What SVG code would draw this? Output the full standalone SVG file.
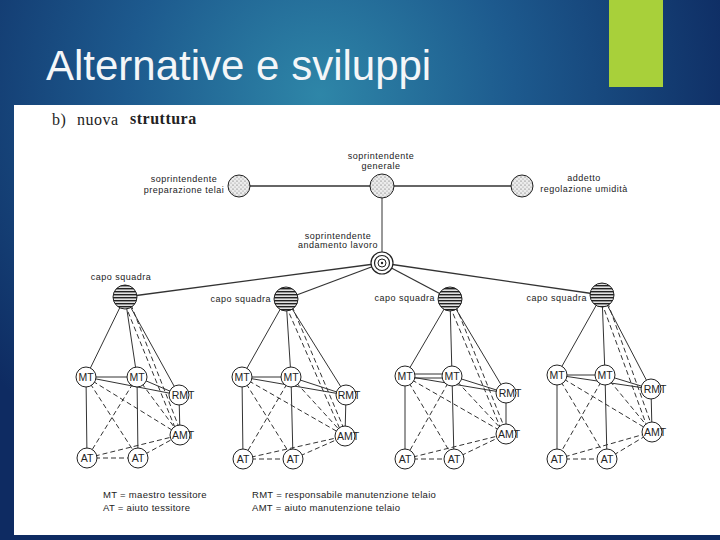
<svg xmlns="http://www.w3.org/2000/svg" width="720" height="540" viewBox="0 0 720 540">
<defs>
<radialGradient id="bg" gradientUnits="userSpaceOnUse" cx="320" cy="95" r="430">
<stop offset="0" stop-color="#2e86a8"/>
<stop offset="0.45" stop-color="#1d5a8e"/>
<stop offset="1" stop-color="#0e2b62"/>
</radialGradient>
<pattern id="stip" width="4" height="4" patternUnits="userSpaceOnUse">
<rect width="4" height="4" fill="#ececec"/>
<circle cx="1" cy="1" r="0.6" fill="#555"/>
<circle cx="3" cy="3" r="0.5" fill="#777"/>
</pattern>
<pattern id="stripe" width="4" height="3" patternUnits="userSpaceOnUse">
<rect width="4" height="3" fill="#e2e2e2"/>
<rect width="4" height="1.4" fill="#222"/>
</pattern>
<style>
.t{font-family:"Liberation Sans",Arial,sans-serif;fill:#222}
.s{font-size:9px;letter-spacing:0.5px}
.n{font-size:10.5px;text-anchor:middle}
.lg{font-size:9.5px;letter-spacing:0.3px}
.c{fill:#fff;stroke:#222;stroke-width:1}
.sol{stroke:#333;stroke-width:1;fill:none}
.das{stroke:#333;stroke-width:1;stroke-dasharray:5 3;fill:none}
.top{stroke:#333;stroke-width:1.3;fill:none}
.cs{fill:url(#stripe);stroke:#222;stroke-width:1}
.sp{fill:url(#stip);stroke:#222;stroke-width:1}
.b{font-family:"Liberation Serif","Times New Roman",serif;font-size:16px;fill:#222;letter-spacing:0.5px}
</style>
</defs>
<rect width="720" height="540" fill="url(#bg)"/>
<rect x="609" y="0" width="54" height="87" fill="#a8d03a"/>
<text x="46" y="80" font-family="Liberation Sans, Arial, sans-serif" font-size="42" fill="#f4f6f8">Alternative e sviluppi</text>
<rect x="14" y="105" width="706" height="430" fill="#fff"/>
<text class="b" x="52" y="125">b)</text>
<text class="b" x="77" y="125">nuova</text>
<text class="b" x="130" y="124" font-weight="bold">struttura</text>

<g id="connectors">
<line class="top" x1="239" y1="186" x2="382" y2="186" stroke-width="2"/>
<line class="top" x1="382" y1="186" x2="522" y2="186" stroke-width="2"/>
<line class="sol" x1="382" y1="186" x2="382" y2="263"/>
<line class="top" x1="382" y1="263" x2="125" y2="297"/>
<line class="top" x1="382" y1="263" x2="286" y2="299"/>
<line class="top" x1="382" y1="263" x2="450" y2="299"/>
<line class="top" x1="382" y1="263" x2="602" y2="295"/>
<!-- team 1 -->
<g>
<line class="sol" x1="125" y1="297" x2="86" y2="377"/>
<line class="sol" x1="125" y1="297" x2="137" y2="377"/>
<line class="sol" x1="125" y1="297" x2="179" y2="395"/>
<line class="das" x1="122" y1="297" x2="178" y2="435"/>
<line class="das" x1="128" y1="297" x2="182" y2="435"/>
<line class="sol" x1="86" y1="377" x2="137" y2="377"/>
<line class="sol" x1="86" y1="377" x2="179" y2="395"/>
<line class="sol" x1="137" y1="377" x2="179" y2="395"/>
<line class="sol" x1="86" y1="377" x2="87" y2="458"/>
<line class="sol" x1="137" y1="377" x2="138" y2="458"/>
<line class="sol" x1="179" y1="395" x2="180" y2="435"/>
<line class="das" x1="86" y1="377" x2="180" y2="435"/>
<line class="das" x1="137" y1="377" x2="180" y2="435"/>
<line class="das" x1="86" y1="377" x2="138" y2="458"/>
<line class="das" x1="137" y1="377" x2="87" y2="458"/>
<line class="das" x1="87" y1="458" x2="180" y2="435"/>
<line class="das" x1="138" y1="458" x2="180" y2="435"/>
<line class="das" x1="87" y1="458" x2="138" y2="458" stroke-width="1.6"/>
</g>
<!-- team 2 -->
<g>
<line class="sol" x1="286" y1="299" x2="242" y2="377"/>
<line class="sol" x1="286" y1="299" x2="291" y2="377"/>
<line class="sol" x1="286" y1="299" x2="346" y2="395"/>
<line class="das" x1="283" y1="299" x2="343" y2="436"/>
<line class="das" x1="289" y1="299" x2="347" y2="436"/>
<line class="sol" x1="242" y1="377" x2="291" y2="377" stroke-width="1.5"/>
<line class="sol" x1="242" y1="377" x2="346" y2="395"/>
<line class="sol" x1="291" y1="377" x2="346" y2="395"/>
<line class="sol" x1="242" y1="377" x2="243" y2="459"/>
<line class="sol" x1="291" y1="377" x2="293" y2="459"/>
<line class="sol" x1="346" y1="395" x2="345" y2="436" stroke-width="1.5"/>
<line class="das" x1="242" y1="377" x2="345" y2="436"/>
<line class="das" x1="291" y1="377" x2="345" y2="436"/>
<line class="das" x1="242" y1="377" x2="293" y2="459"/>
<line class="das" x1="291" y1="377" x2="243" y2="459"/>
<line class="das" x1="243" y1="459" x2="345" y2="436"/>
<line class="das" x1="293" y1="459" x2="345" y2="436"/>
<line class="das" x1="243" y1="459" x2="293" y2="459" stroke-width="1.6"/>
</g>
<!-- team 3 -->
<g>
<line class="sol" x1="450" y1="299" x2="405" y2="376"/>
<line class="sol" x1="450" y1="299" x2="452" y2="376"/>
<line class="sol" x1="450" y1="299" x2="506" y2="393"/>
<line class="das" x1="447" y1="299" x2="503" y2="434"/>
<line class="das" x1="453" y1="299" x2="507" y2="434"/>
<line class="sol" x1="405" y1="374" x2="452" y2="374"/>
<line class="sol" x1="405" y1="378" x2="452" y2="378"/>
<line class="sol" x1="405" y1="376" x2="506" y2="393"/>
<line class="sol" x1="452" y1="376" x2="506" y2="393"/>
<line class="sol" x1="405" y1="376" x2="405" y2="459"/>
<line class="sol" x1="452" y1="376" x2="454" y2="459" stroke-width="1.5"/>
<line class="sol" x1="506" y1="393" x2="506" y2="434" stroke-width="1.5"/>
<line class="das" x1="405" y1="376" x2="506" y2="434"/>
<line class="das" x1="452" y1="376" x2="506" y2="434"/>
<line class="das" x1="405" y1="376" x2="454" y2="459"/>
<line class="das" x1="452" y1="376" x2="405" y2="459"/>
<line class="das" x1="405" y1="459" x2="506" y2="434"/>
<line class="das" x1="454" y1="459" x2="506" y2="434"/>
<line class="das" x1="405" y1="459" x2="454" y2="459" stroke-width="2.2"/>
</g>
<!-- team 4 -->
<g>
<line class="sol" x1="602" y1="295" x2="557" y2="375"/>
<line class="sol" x1="602" y1="295" x2="605" y2="375"/>
<line class="sol" x1="602" y1="295" x2="651" y2="389"/>
<line class="das" x1="599" y1="295" x2="649" y2="432"/>
<line class="das" x1="605" y1="295" x2="654" y2="432"/>
<line class="sol" x1="557" y1="375" x2="605" y2="375" stroke-width="1.5"/>
<line class="sol" x1="557" y1="375" x2="651" y2="389"/>
<line class="sol" x1="605" y1="375" x2="651" y2="389"/>
<line class="sol" x1="557" y1="375" x2="557" y2="459" stroke-width="2"/>
<line class="sol" x1="605" y1="375" x2="607" y2="459" stroke-width="1.5"/>
<line class="sol" x1="651" y1="389" x2="652" y2="432"/>
<line class="das" x1="557" y1="375" x2="652" y2="432"/>
<line class="das" x1="605" y1="375" x2="652" y2="432"/>
<line class="das" x1="557" y1="375" x2="607" y2="459"/>
<line class="das" x1="605" y1="375" x2="557" y2="459"/>
<line class="das" x1="557" y1="459" x2="652" y2="432"/>
<line class="das" x1="607" y1="459" x2="652" y2="432"/>
<line class="das" x1="557" y1="459" x2="607" y2="459" stroke-width="2"/>
</g>
</g>

<g id="sopr-prep">
<circle class="sp" cx="239" cy="186" r="11"/>
<text class="t s" x="184" y="182" text-anchor="middle">soprintendente</text>
<text class="t s" x="184" y="193" text-anchor="middle">preparazione telai</text>
</g>
<g id="sopr-generale">
<circle class="sp" cx="382" cy="186" r="12"/>
<text class="t s" x="381" y="159" text-anchor="middle">soprintendente</text>
<text class="t s" x="381" y="169" text-anchor="middle">generale</text>
</g>
<g id="addetto-umidita">
<circle class="sp" cx="522" cy="186" r="11"/>
<text class="t s" x="584" y="181" text-anchor="middle">addetto</text>
<text class="t s" x="584" y="192" text-anchor="middle">regolazione umidità</text>
</g>
<g id="sopr-andamento">
<circle cx="382" cy="263" r="11" fill="#fff" stroke="#222" stroke-width="1.2"/>
<circle cx="382" cy="263" r="7.5" fill="none" stroke="#222" stroke-width="1.2"/>
<circle cx="382" cy="263" r="4" fill="none" stroke="#222" stroke-width="1"/>
<circle cx="382" cy="263" r="1.2" fill="#222"/>
<text class="t s" x="338" y="239" text-anchor="middle">soprintendente</text>
<text class="t s" x="338" y="248" text-anchor="middle">andamento lavoro</text>
</g>

<g id="capo1"><circle class="cs" cx="125" cy="297" r="12"/><text class="t s" x="121" y="280" text-anchor="middle">capo squadra</text></g>
<g id="capo2"><circle class="cs" cx="286" cy="299" r="12"/><text class="t s" x="271" y="302" text-anchor="end">capo squadra</text></g>
<g id="capo3"><circle class="cs" cx="450" cy="299" r="12"/><text class="t s" x="435" y="301" text-anchor="end">capo squadra</text></g>
<g id="capo4"><circle class="cs" cx="602" cy="295" r="12"/><text class="t s" x="587" y="301" text-anchor="end">capo squadra</text></g>

<!-- team 1 nodes -->
<g id="t1-mt1"><circle class="c" cx="86" cy="377" r="10"/><text class="t n" x="86" y="381">MT</text></g>
<g id="t1-mt2"><circle class="c" cx="137" cy="377" r="10"/><text class="t n" x="137" y="381">MT</text></g>
<g id="t1-rmt"><circle class="c" cx="179" cy="395" r="10"/><text class="t n" x="183" y="399">RMT</text></g>
<g id="t1-amt"><circle class="c" cx="180" cy="435" r="10"/><text class="t n" x="183" y="439">AMT</text></g>
<g id="t1-at1"><circle class="c" cx="87" cy="458" r="10"/><text class="t n" x="87" y="462">AT</text></g>
<g id="t1-at2"><circle class="c" cx="138" cy="458" r="10"/><text class="t n" x="138" y="462">AT</text></g>
<!-- team 2 nodes -->
<g id="t2-mt1"><circle class="c" cx="242" cy="377" r="10"/><text class="t n" x="242" y="381">MT</text></g>
<g id="t2-mt2"><circle class="c" cx="291" cy="377" r="10"/><text class="t n" x="291" y="381">MT</text></g>
<g id="t2-rmt"><circle class="c" cx="346" cy="395" r="10"/><text class="t n" x="349" y="399">RMT</text></g>
<g id="t2-amt"><circle class="c" cx="345" cy="436" r="10"/><text class="t n" x="348" y="440">AMT</text></g>
<g id="t2-at1"><circle class="c" cx="243" cy="459" r="10"/><text class="t n" x="243" y="463">AT</text></g>
<g id="t2-at2"><circle class="c" cx="293" cy="459" r="10"/><text class="t n" x="293" y="463">AT</text></g>
<!-- team 3 nodes -->
<g id="t3-mt1"><circle class="c" cx="405" cy="376" r="10"/><text class="t n" x="405" y="380">MT</text></g>
<g id="t3-mt2"><circle class="c" cx="452" cy="376" r="10"/><text class="t n" x="452" y="380">MT</text></g>
<g id="t3-rmt"><circle class="c" cx="506" cy="393" r="10"/><text class="t n" x="510" y="397">RMT</text></g>
<g id="t3-amt"><circle class="c" cx="506" cy="434" r="10"/><text class="t n" x="509" y="438">AMT</text></g>
<g id="t3-at1"><circle class="c" cx="405" cy="459" r="10"/><text class="t n" x="405" y="463">AT</text></g>
<g id="t3-at2"><circle class="c" cx="454" cy="459" r="10"/><text class="t n" x="454" y="463">AT</text></g>
<!-- team 4 nodes -->
<g id="t4-mt1"><circle class="c" cx="557" cy="375" r="10"/><text class="t n" x="557" y="379">MT</text></g>
<g id="t4-mt2"><circle class="c" cx="605" cy="375" r="10"/><text class="t n" x="605" y="379">MT</text></g>
<g id="t4-rmt"><circle class="c" cx="651" cy="389" r="10"/><text class="t n" x="655" y="393">RMT</text></g>
<g id="t4-amt"><circle class="c" cx="652" cy="432" r="10"/><text class="t n" x="655" y="436">AMT</text></g>
<g id="t4-at1"><circle class="c" cx="557" cy="459" r="10"/><text class="t n" x="557" y="463">AT</text></g>
<g id="t4-at2"><circle class="c" cx="607" cy="459" r="10"/><text class="t n" x="607" y="463">AT</text></g>

<g id="legend">
<text class="t lg" x="103" y="498">MT = maestro tessitore</text>
<text class="t lg" x="103" y="511">AT = aiuto tessitore</text>
<text class="t lg" x="252" y="498">RMT = responsabile manutenzione telaio</text>
<text class="t lg" x="252" y="511">AMT = aiuto manutenzione telaio</text>
</g>
</svg>
